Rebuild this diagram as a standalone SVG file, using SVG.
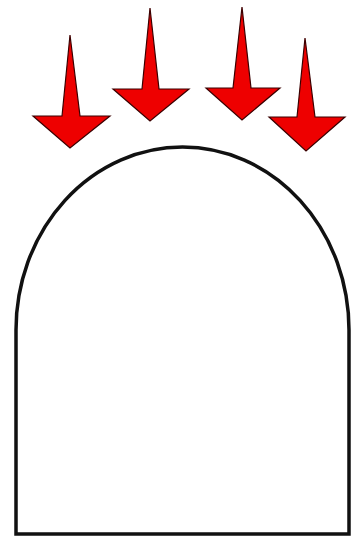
<svg xmlns="http://www.w3.org/2000/svg" width="352" height="537" viewBox="0 0 352 537">
<style>
.arrow{fill:#ee0000;stroke:#3a0000;stroke-width:1.2;stroke-linejoin:miter}
.arch{fill:#ffffff;stroke:#111111;stroke-width:3.5}
</style>
<rect width="352" height="537" fill="#ffffff"/>
<g id="arch"><path class="arch" d="M16,534 L16,330 A166.5,183 0 0 1 349,330 L349,534 Z"/></g>
<g id="arrow1"><path class="arrow" d="M70,35 L80,116 L110,116 L70,148 L33,116 L62,116 Z"/></g>
<g id="arrow2"><path class="arrow" d="M150,8 L159,89 L189,89 L150,121 L113,89 L142,89 Z"/></g>
<g id="arrow3"><path class="arrow" d="M242,7 L251,88 L280,88 L242,120 L206,88 L233,88 Z"/></g>
<g id="arrow4"><path class="arrow" d="M305,38 L315,117 L345,117 L306,151 L269,117 L297,117 Z"/></g>
</svg>
